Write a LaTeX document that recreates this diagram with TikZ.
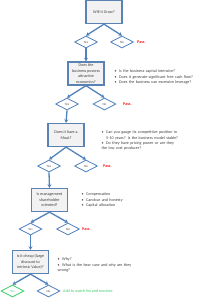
\documentclass[tikz,border=0pt]{standalone}
\usepackage{fontspec}
\setmainfont{Carlito}
\usetikzlibrary{shapes.geometric,arrows.meta}
\definecolor{boxline}{HTML}{5B82B4}
\definecolor{arr}{HTML}{4F81BD}
\definecolor{boxfill}{HTML}{F2F2F2}
\definecolor{passred}{HTML}{FF1A1A}
\definecolor{okgreen}{HTML}{3CCB6A}
\newcommand\bitem[1]{\par\noindent\hangindent=4.5pt\hangafter=1\makebox[4.5pt][l]{\textbullet}#1}
\newcommand\wrapline{\hfil\break}
\begin{document}
\begin{tikzpicture}[x=1pt,y=-1pt,
 qbox/.style={draw=boxline,fill=boxfill,line width=1.3pt,minimum width=36pt,minimum height=23pt,inner sep=0pt,align=center,font=\fontsize{4.1}{5.4}\selectfont,text=black!75},
 dia/.style={diamond,draw=arr,fill=white,line width=0.8pt,minimum width=23pt,minimum height=12pt,inner sep=0pt,aspect=2,font=\fontsize{3.2}{3.2}\selectfont,text=black!70},
 conn/.style={draw=arr,line width=1.3pt,-{Stealth[length=3.5pt,width=4pt]}},
 notes/.style={anchor=north west,inner sep=0pt,text width=95pt,font=\fontsize{4.1}{5.2}\selectfont,text=black!75,align=left},
 pass/.style={anchor=west,inner sep=0pt,text=passred,font=\fontsize{4.1}{4.2}\selectfont\bfseries}]
\useasboundingbox (0,0) rectangle (201,300);

% level 1
\node[qbox] (b1) at (104,12) {Will it Grow?};
\node[dia] (y1) at (86,42) {Yes};
\node[dia] (n1) at (122,42) {No};
\node[pass] (p1) at (137,42) {Pass.};
% level 2
\node[qbox] (b2) at (86,73.5) {Does the\\business possess\\attractive\\economics?};
\node[dia] (y2) at (67,104) {Yes};
\node[dia] (n2) at (104.5,104) {No};
\node[pass] (p2) at (123,104) {Pass.};
\node[notes] (t2) at (114.5,67.5) {\bitem{Is the business capital intensive?}\bitem{Does it generate significant free cash flow?}\bitem{Does the business use excessive leverage?}};
% level 3
\node[qbox] (b3) at (66,135) {Does it have a\\Moat?};
\node[dia] (y3) at (49,166) {Yes};
\node[dia] (n3) at (86,166) {No};
\node[pass] (p3) at (103,166) {Pass.};
\node[notes] (t3) at (101.5,128.5) {\bitem{Can you gauge its competitive position in\wrapline 5-10 years? Is the business model stable?}\bitem{Do they have pricing power or are they\wrapline the low cost producer?}};
% level 4
\node[qbox] (b4) at (49.5,200) {Is management\\shareholder\\oriented?};
\node[dia] (y4) at (30.5,229) {Yes};
\node[dia] (n4) at (68,229) {No};
\node[pass] (p4) at (82,229) {Pass.};
\node[notes] (t4) at (81.5,190.5) {\bitem{Compensation}\bitem{Candour and honesty}\bitem{Capital allocation}};
% level 5
\node[qbox] (b5) at (30.5,262) {Is it cheap (large\\discount to\\intrinsic Value)?};
\node[dia,draw=okgreen,text=okgreen] (y5) at (12.5,291) {Yes};
\node[dia] (n5) at (48.5,291) {No};
\node[anchor=west,inner sep=0pt,text=okgreen,font=\fontsize{4.1}{4.2}\selectfont] (w5) at (63,291) {Add to watch list and monitor.};
\node[notes] (t5) at (57.5,255.5) {\bitem{Why?}\bitem{What is the bear case and why are they\wrapline wrong?}};

% connectors
\foreach \b/\y/\n in {b1/y1/n1,b2/y2/n2,b3/y3/n3,b4/y4/n4,b5/y5/n5}{
  \draw[conn] (\b.south) -- (\y.north);
  \draw[conn] (\b.south) -- (\n.north);
}
\foreach \y/\b in {y1/b2,y2/b3,y3/b4,y4/b5}{
  \draw[conn] (\y.south) -- (\b.north);
}
\end{tikzpicture}
\end{document}
